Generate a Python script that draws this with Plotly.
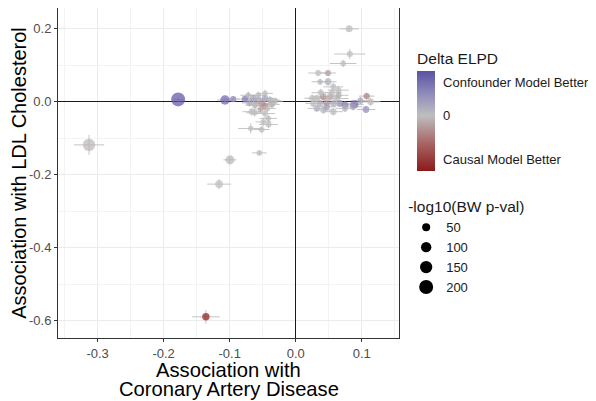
import numpy as np
import plotly.graph_objects as go

# ---- data ----
cad_beta = [-0.313, -0.178, -0.107, -0.0946, -0.0995, -0.116, -0.136, -0.055, -0.068, -0.0515,
            -0.041, -0.049, -0.0415, -0.0465, -0.0667, -0.0768, -0.064, -0.0567, -0.0465, -0.039,
            -0.031, -0.0515, -0.0617, -0.0465, -0.036, -0.0567, -0.0465, -0.0718, -0.062, -0.053,
            -0.043, -0.070,
            0.081, 0.082, 0.072, 0.034, 0.049, 0.037, 0.049, 0.057, 0.0645, 0.032,
            0.042, 0.052, 0.062, 0.0267, 0.037, 0.047, 0.057, 0.067, 0.0747, 0.089,
            0.1075, 0.1135, 0.1065, 0.042, 0.057, 0.032, 0.0747, 0.047, 0.087, 0.025,
            0.038, 0.055, 0.065, 0.098]
ldl_beta = [-0.118, 0.0066, 0.005, 0.0074, -0.159, -0.2255, -0.589, -0.140, -0.073, -0.076,
            -0.062, -0.055, -0.0455, -0.032, -0.027, 0.0074, 0.009, 0.0047, 0.009, 0.005,
            0.002, -0.0044, -0.009, -0.011, -0.007, 0.018, 0.023, 0.018, -0.030, -0.020,
            -0.018, -0.003,
            0.200, 0.131, 0.105, 0.079, 0.079, 0.055, 0.055, 0.041, 0.032, 0.009,
            0.0137, 0.0137, 0.009, -0.0044, -0.0044, -0.0027, -0.0044, -0.0044, -0.009, -0.007,
            0.0156, 0.0, -0.021, -0.0227, -0.027, -0.018, -0.018, -0.0137, -0.0137, 0.010,
            0.025, 0.025, 0.018, 0.003]
cad_se = [0.023, 0.008, 0.012, 0.010, 0.010, 0.018, 0.021, 0.011, 0.019, 0.012,
          0.014, 0.012, 0.013, 0.015, 0.014, 0.012, 0.015, 0.016, 0.014, 0.015,
          0.012, 0.013, 0.015, 0.014, 0.012, 0.012, 0.012, 0.012, 0.013, 0.012,
          0.013, 0.012,
          0.0147, 0.0235, 0.020, 0.015, 0.012, 0.013, 0.013, 0.015, 0.016, 0.014,
          0.016, 0.016, 0.018, 0.012, 0.015, 0.014, 0.016, 0.016, 0.015, 0.014,
          0.012, 0.015, 0.014, 0.014, 0.014, 0.014, 0.014, 0.014, 0.014, 0.012,
          0.014, 0.015, 0.015, 0.015]
ldl_se = [0.027, 0.006, 0.006, 0.008, 0.008, 0.014, 0.019, 0.005, 0.014, 0.010,
          0.010, 0.012, 0.010, 0.012, 0.010, 0.008, 0.010, 0.012, 0.012, 0.010,
          0.010, 0.010, 0.010, 0.012, 0.010, 0.010, 0.010, 0.010, 0.010, 0.010,
          0.010, 0.010,
          0.008, 0.014, 0.010, 0.008, 0.008, 0.008, 0.010, 0.012, 0.012, 0.010,
          0.010, 0.012, 0.010, 0.010, 0.010, 0.010, 0.010, 0.010, 0.010, 0.010,
          0.010, 0.010, 0.010, 0.010, 0.010, 0.010, 0.010, 0.010, 0.010, 0.010,
          0.010, 0.010, 0.010, 0.010]
delta_elpd = [-0.05, 0.8, 0.7, 0.45, -0.05, 0.0, -1.0, 0.0, 0.0, 0.0,
              0.0, 0.0, 0.05, 0.0, 0.0, 0.5, 0.25, 0.15, 0.2, 0.1,
              0.05, -0.25, -0.1, -0.3, -0.1, 0.05, 0.0, 0.1, 0.0, -0.15,
              0.0, 0.2,
              0.0, 0.0, 0.0, 0.0, -0.2, 0.05, 0.1, 0.0, 0.0, 0.0,
              -0.25, -0.1, 0.0, 0.0, 0.1, -0.2, 0.1, 0.3, 0.45, 0.65,
              -0.35, 0.0, 0.35, 0.05, 0.0, 0.1, 0.1, 0.25, 0.2, 0.0,
              0.0, 0.0, -0.1, 0.2]
neglog10_p = [150, 200, 80, 25, 70, 45, 40, 15, 12, 15,
              18, 14, 12, 20, 22, 28, 30, 28, 30, 25,
              20, 25, 22, 20, 20, 15, 14, 12, 16, 18,
              18, 20,
              35, 20, 15, 18, 20, 14, 30, 20, 22, 30,
              28, 30, 25, 28, 30, 28, 28, 28, 30, 50,
              25, 30, 30, 25, 28, 22, 22, 28, 22, 20,
              20, 20, 20, 22]

size_breaks = [50, 100, 150, 200]
color_tick_vals = [0.607, 0.0, -0.789]
color_tick_text = ["Confounder Model Better", "0", "Causal Model Better"]
x_title_lines = ["Association with", "Coronary Artery Disease"]
y_title = "Association with LDL Cholesterol"


def marker_diam(v):
    return np.sqrt(20 + 0.88 * np.asarray(v, dtype=float))


FONT = "Liberation Sans, Arial, sans-serif"
cmin, cmax = -1.0, 0.805
mid = (0 - cmin) / (cmax - cmin)
colorscale = [[0.0, "#8B1A1A"], [mid * 0.5, "#A86565"], [mid, "#BEBEBE"],
              [mid + (1 - mid) * 0.5, "#8F8ABA"], [1.0, "#5B52A3"]]

fig = go.Figure()
fig.add_trace(go.Scatter(
    x=cad_beta, y=ldl_beta, mode="markers", showlegend=False,
    error_x=dict(type="data", array=cad_se, color="#C4C4C4", thickness=1, width=0),
    error_y=dict(type="data", array=ldl_se, color="#C4C4C4", thickness=1, width=0),
    marker=dict(size=marker_diam(neglog10_p), color=delta_elpd, coloraxis="coloraxis",
                line=dict(width=0)),
))

for v in size_breaks:
    fig.add_trace(go.Scatter(
        x=[None], y=[None], mode="markers", name=str(v), showlegend=True,
        marker=dict(size=float(marker_diam(v)), color="black"),
    ))

# x-axis title, one line per annotation so the line spacing matches the reference
for i, line in enumerate(x_title_lines):
    fig.add_annotation(text=line, xref="paper", yref="paper", x=0.5, y=0,
                       xanchor="center", yanchor="middle", yshift=-32 - 19 * i,
                       showarrow=False, borderpad=0,
                       font=dict(size=20.2, color="black", family=FONT))

# the page body adds an 8px offset; the figure is sized to fill the rest of the window
fig.update_layout(
    width=588, height=393,
    margin=dict(l=50, r=197, t=0, b=63, autoexpand=False),
    paper_bgcolor="white", plot_bgcolor="white",
    font=dict(family=FONT, color="#1A1A1A"),
    coloraxis=dict(
        cmin=cmin, cmax=cmax, colorscale=colorscale,
        colorbar=dict(
            title=dict(text="Delta ELPD", side="top", font=dict(size=15.5, color="#1A1A1A")),
            tickvals=color_tick_vals, ticktext=color_tick_text,
            ticks="outside", tickcolor="white", ticklen=6,
            tickfont=dict(size=13, color="#1A1A1A"),
            thickness=18, thicknessmode="pixels",
            len=122, lenmode="pixels",
            x=1.053, xanchor="left", xpad=0,
            y=0.691, yanchor="middle", ypad=0,
            outlinewidth=0,
        ),
    ),
    legend=dict(
        title=dict(text="-log10(BW p-val)", font=dict(size=15.5, color="#1A1A1A")),
        font=dict(size=13, color="#1A1A1A"),
        x=1.021, xanchor="left", y=0.442, yanchor="top",
        itemsizing="trace", bgcolor="rgba(0,0,0,0)",
    ),
    xaxis=dict(
        range=[-0.360, 0.1565], tickvals=[-0.3, -0.2, -0.1, 0.0, 0.1],
        ticktext=["-0.3", "-0.2", "-0.1", "0.0", "0.1"],
        showgrid=True, gridcolor="#EBEBEB", gridwidth=1,
        minor=dict(dtick=0.05, tick0=0, showgrid=True, gridcolor="#F3F3F3", gridwidth=0.6),
        zeroline=True, zerolinecolor="#1A1A1A", zerolinewidth=1.2,
        showline=True, mirror=True, linecolor="#333333", linewidth=1,
        ticks="outside", ticklen=3, tickcolor="#333333",
        tickfont=dict(size=13, color="#4D4D4D"),
        automargin=False,
    ),
    yaxis=dict(
        range=[-0.647, 0.257], tickvals=[0.2, 0.0, -0.2, -0.4, -0.6],
        ticktext=["0.2", "0.0", "-0.2", "-0.4", "-0.6"],
        showgrid=True, gridcolor="#EBEBEB", gridwidth=1,
        minor=dict(dtick=0.1, tick0=0, showgrid=True, gridcolor="#F3F3F3", gridwidth=0.6),
        zeroline=True, zerolinecolor="#1A1A1A", zerolinewidth=1.2,
        showline=True, mirror=True, linecolor="#333333", linewidth=1,
        ticks="outside", ticklen=3, tickcolor="#333333",
        tickfont=dict(size=13, color="#4D4D4D"),
        automargin=False,
        title=dict(text=y_title, font=dict(size=20, color="black")),
    ),
)

fig.write_html("out.html")
